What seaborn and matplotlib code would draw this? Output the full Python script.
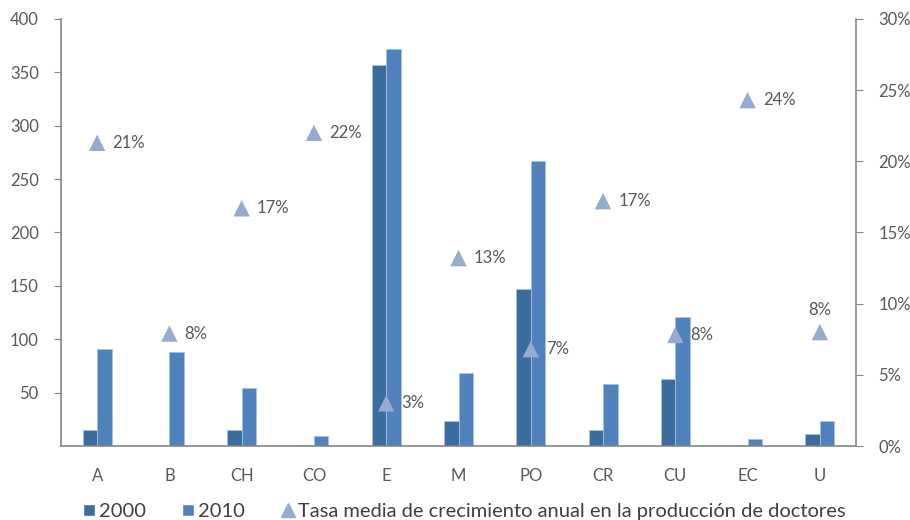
import matplotlib
matplotlib.use("Agg")
import matplotlib.pyplot as plt
import numpy as np
import pandas as pd
import seaborn as sns
from matplotlib.lines import Line2D
from matplotlib.patches import Patch
from matplotlib.ticker import FuncFormatter

# Data
countries = ["A", "B", "CH", "CO", "E", "M", "PO", "CR", "CU", "EC", "U"]
doct_2000 = [15, 0, 15, 1, 357, 23, 147, 15, 63, 0.5, 11]
doct_2010 = [91, 88, 54, 9, 372, 68, 267, 58, 121, 7, 23]
growth = [21, 8, 17, 22, 3, 13, 7, 17, 8, 24, 8]  # %
growth_plot = [21.3, 7.9, 16.7, 22.0, 3.0, 13.2, 6.8, 17.2, 7.8, 24.3, 8.0]

dark = "#3A6C9E"
light = "#4F81BD"
tri = "#95ABCF"
grey = "#595959"
axis_grey = "#868686"

sns.set_style("white")
plt.rcParams["font.family"] = ["Lato", "DejaVu Sans"]

df = pd.DataFrame({
    "pais": countries * 2,
    "valor": doct_2000 + doct_2010,
    "anio": ["2000"] * len(countries) + ["2010"] * len(countries),
})

fig = plt.figure(figsize=(9.1, 5.2), dpi=100)
ax = fig.add_axes([0.067, 0.1423, 0.8737, 0.8212])

sns.barplot(data=df, x="pais", y="valor", hue="anio", order=countries,
            palette={"2000": dark, "2010": light}, width=0.4, ax=ax,
            saturation=1, edgecolor="#A9C0E0", linewidth=0.6, legend=False,
            errorbar=None)

ax.set_xlim(-0.5, len(countries) - 0.5)
ax.set_ylim(0, 400)
ax.set_yticks(np.arange(50, 401, 50))
ax.set_xlabel("")
ax.set_ylabel("")

ax2 = ax.twinx()
sns.scatterplot(x=np.arange(len(countries)), y=growth_plot, marker="^", s=140,
                color=tri, edgecolor="none", ax=ax2, legend=False, zorder=5)
ax2.set_ylim(0, 30)
ax2.set_yticks(np.arange(0, 31, 5))
ax2.yaxis.set_major_formatter(FuncFormatter(lambda v, p: f"{v:.0f}%"))

for i, (g, gp) in enumerate(zip(growth, growth_plot)):
    if countries[i] == "U":
        ax2.annotate(f"{g}%", (i, gp), xytext=(0, 10), textcoords="offset points",
                     ha="center", va="bottom", fontsize=12, color=grey)
    else:
        ax2.annotate(f"{g}%", (i, gp), xytext=(11, 0), textcoords="offset points",
                     ha="left", va="center", fontsize=12, color=grey)

for a in (ax, ax2):
    a.spines["top"].set_visible(False)
    for s in ("left", "right", "bottom"):
        a.spines[s].set_color(axis_grey)
        a.spines[s].set_linewidth(1.2)
ax.spines["right"].set_visible(False)
ax2.spines["left"].set_visible(False)
ax2.spines["bottom"].set_visible(False)

ax.tick_params(axis="y", left=True, length=5, color=axis_grey, labelsize=12,
               labelcolor=grey, pad=11)
ax.tick_params(axis="x", bottom=False, labelsize=12, labelcolor=grey, pad=12)
ax2.tick_params(axis="y", right=True, length=5, color=axis_grey, labelsize=12,
                labelcolor=grey, pad=11)

handles = [
    Patch(facecolor=dark, label="2000"),
    Patch(facecolor=light, label="2010"),
    Line2D([], [], marker="^", color=tri, linestyle="none", markersize=10,
           label="Tasa media de crecimiento anual en la producción de doctores"),
]
fig.legend(handles=handles, loc="lower center", bbox_to_anchor=(0.51, -0.035),
           ncol=3, frameon=False, fontsize=14.5, labelcolor="#404040",
           handlelength=0.6, handleheight=0.6, handletextpad=0.2, columnspacing=1.8)

fig.savefig("out.png", dpi=100)
